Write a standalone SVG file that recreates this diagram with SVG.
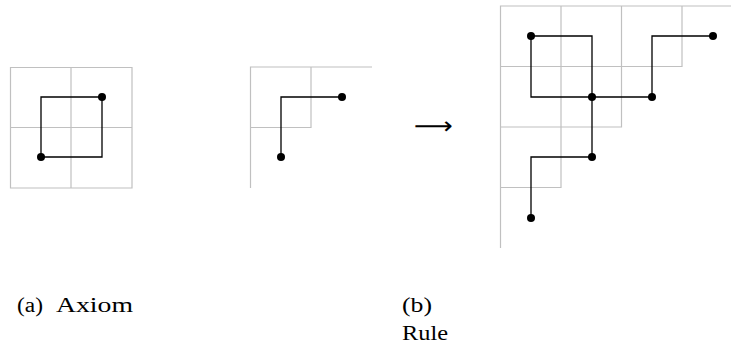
<svg xmlns="http://www.w3.org/2000/svg" width="731" height="347" viewBox="0 0 731 347">
<style>
.g{fill:none;stroke:#c0c0c0;stroke-width:1.2}
.p{fill:none;stroke:#000;stroke-width:1.3}
.d{fill:#000}
.t{font-family:"Liberation Serif","DejaVu Serif",serif;font-size:20px;fill:#000}
</style>
<rect width="731" height="347" fill="#fff"/>
<g id="axiom">
<path class="g" d="M10.5,67.5H132V188H10.5Z M71,67.5V188 M10.5,127.5H132"/>
<path class="p" d="M41,97H102V157H41Z"/>
<circle class="d" cx="41" cy="157" r="4"/>
<circle class="d" cx="102" cy="97" r="4"/>
</g>
<g id="rule-left">
<path class="g" d="M372,67H250.5V188 M311,67V127.5H250.5"/>
<path class="p" d="M281,157V97H342"/>
<circle class="d" cx="281" cy="157" r="4"/>
<circle class="d" cx="342" cy="97" r="4"/>
</g>
<g id="arrow">
<text x="414" y="134" font-family="'DejaVu Sans',sans-serif" font-size="24" textLength="39" lengthAdjust="spacingAndGlyphs">⟶</text>
</g>
<g id="rule-right">
<path class="g" d="M731,6H500.5V248 M682,6V66.5H500.5 M621.5,6V127H500.5 M561,6V187.5H500.5"/>
<g id="connectors">
<path class="p" d="M531,36H592V97H531Z M592,97H652V36H713 M592,97V157H531V218"/>
</g>
<circle class="d" cx="531" cy="36" r="4"/>
<circle class="d" cx="592" cy="97" r="4"/>
<circle class="d" cx="652" cy="97" r="4"/>
<circle class="d" cx="713" cy="36" r="4"/>
<circle class="d" cx="592" cy="157" r="4"/>
<circle class="d" cx="531" cy="218" r="4"/>
</g>
<g id="captions">
<text class="t" x="17" y="312" textLength="26" lengthAdjust="spacingAndGlyphs">(a)</text>
<text class="t" x="56" y="312" textLength="77" lengthAdjust="spacingAndGlyphs">Axiom</text>
<text class="t" x="402" y="312" textLength="30" lengthAdjust="spacingAndGlyphs">(b)</text>
<text class="t" x="402" y="340" textLength="46" lengthAdjust="spacingAndGlyphs">Rule</text>
</g>
</svg>
